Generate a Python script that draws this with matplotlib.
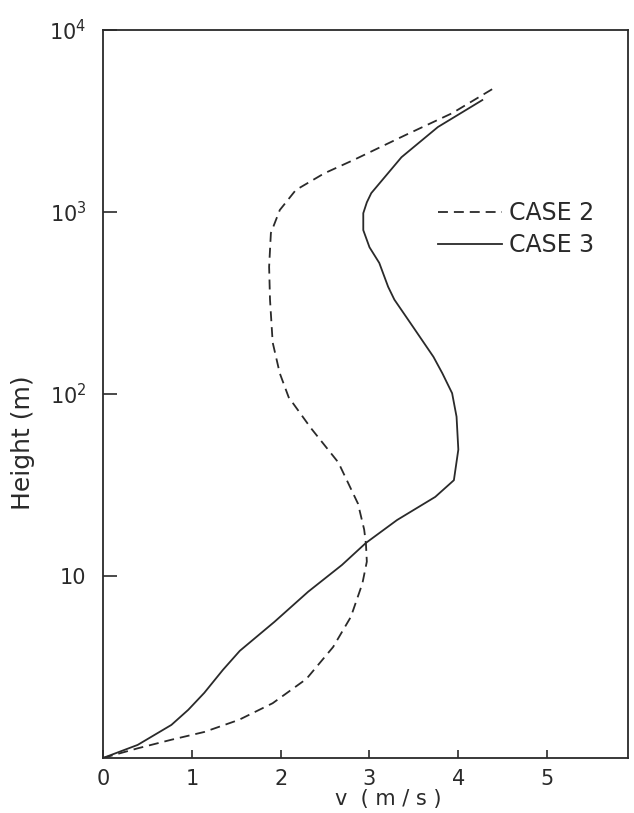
import matplotlib
matplotlib.use("Agg")
from matplotlib import pyplot as plt

# wind speed profiles
case2_v = [0, 0.39, 0.77, 1.14, 1.53, 1.91, 2.29, 2.59, 2.79, 2.92, 2.97, 2.96,
           2.94, 2.87, 2.65, 2.34, 2.09, 1.99, 1.91, 1.88, 1.87, 1.89, 1.99,
           2.17, 2.49, 2.83, 3.40, 3.93, 4.40]
case2_h = [1, 1.13, 1.26, 1.39, 1.62, 2.0, 2.72, 4.07, 5.96, 9.1, 12, 15,
           18, 25, 42, 65, 96, 130, 192, 330, 500, 767, 1025,
           1320, 1630, 1940, 2640, 3490, 4790]

case3_v = [0, 0.39, 0.77, 0.96, 1.14, 1.35, 1.54, 1.93, 2.31, 2.69, 2.96, 3.31,
           3.74, 3.95, 4.0, 3.98, 3.93, 3.82, 3.72, 3.5, 3.28, 3.21, 3.11, 3.0,
           2.93, 2.93, 2.97, 3.02, 3.36, 3.77, 4.27]
case3_h = [1, 1.18, 1.52, 1.84, 2.28, 3.05, 3.88, 5.6, 8.2, 11.5, 15.2, 20.3,
           27.2, 33.6, 49.5, 75, 101, 130, 160, 230, 330, 388, 525, 640,
           795, 985, 1130, 1270, 2000, 2930, 4120]

x_ticks = [0, 1, 2, 3, 4, 5]
y_ticks = [10, 100, 1000, 10000]
y_tick_labels = ['10', r'$\mathregular{10^2}$', r'$\mathregular{10^3}$', r'$\mathregular{10^4}$']

ink = '#2a2a2a'
plt.rcParams['font.family'] = ['DejaVu Sans']

fig = plt.figure(figsize=(6.34, 8.13), dpi=100)
ax = fig.add_axes([103 / 634, 1 - 758 / 813, 525 / 634, 728 / 813])

ax.plot(case2_v, case2_h, color=ink, lw=1.3, dashes=(5.5, 3.3), label='CASE 2')
ax.plot(case3_v, case3_h, color=ink, lw=1.3, label='CASE 3')

ax.set_yscale('log')
ax.set_xlim(0, 5.91)
ax.set_ylim(1, 10000)

ax.set_xticks(x_ticks)
ax.set_yticks(y_ticks)
ax.set_yticklabels(y_tick_labels)
ax.minorticks_off()
ax.tick_params(axis='x', direction='in', length=6, width=1.2, color=ink,
               labelsize=15, pad=8, labelcolor=ink)
ax.tick_params(axis='y', direction='in', length=10, width=1.2, color=ink,
               labelsize=15, pad=12, labelcolor=ink)
for s in ax.spines.values():
    s.set_color(ink)
    s.set_linewidth(1.3)

ax.set_xlabel('v  ( m / s )', fontsize=15, color=ink)
ax.xaxis.set_label_coords(0.543, -0.0425)
ax.set_ylabel('Height (m)', fontsize=18, color=ink)
ax.yaxis.set_label_coords(-0.13, 0.433)

ax.legend(loc='upper left', bbox_to_anchor=(438 / 634, 1 - 201 / 813),
          bbox_transform=fig.transFigure, frameon=False, fontsize=17,
          handlelength=2.7, handletextpad=0.3, labelspacing=0.35,
          borderpad=0, borderaxespad=0, labelcolor=ink)

fig.savefig('out.png', dpi=100)
